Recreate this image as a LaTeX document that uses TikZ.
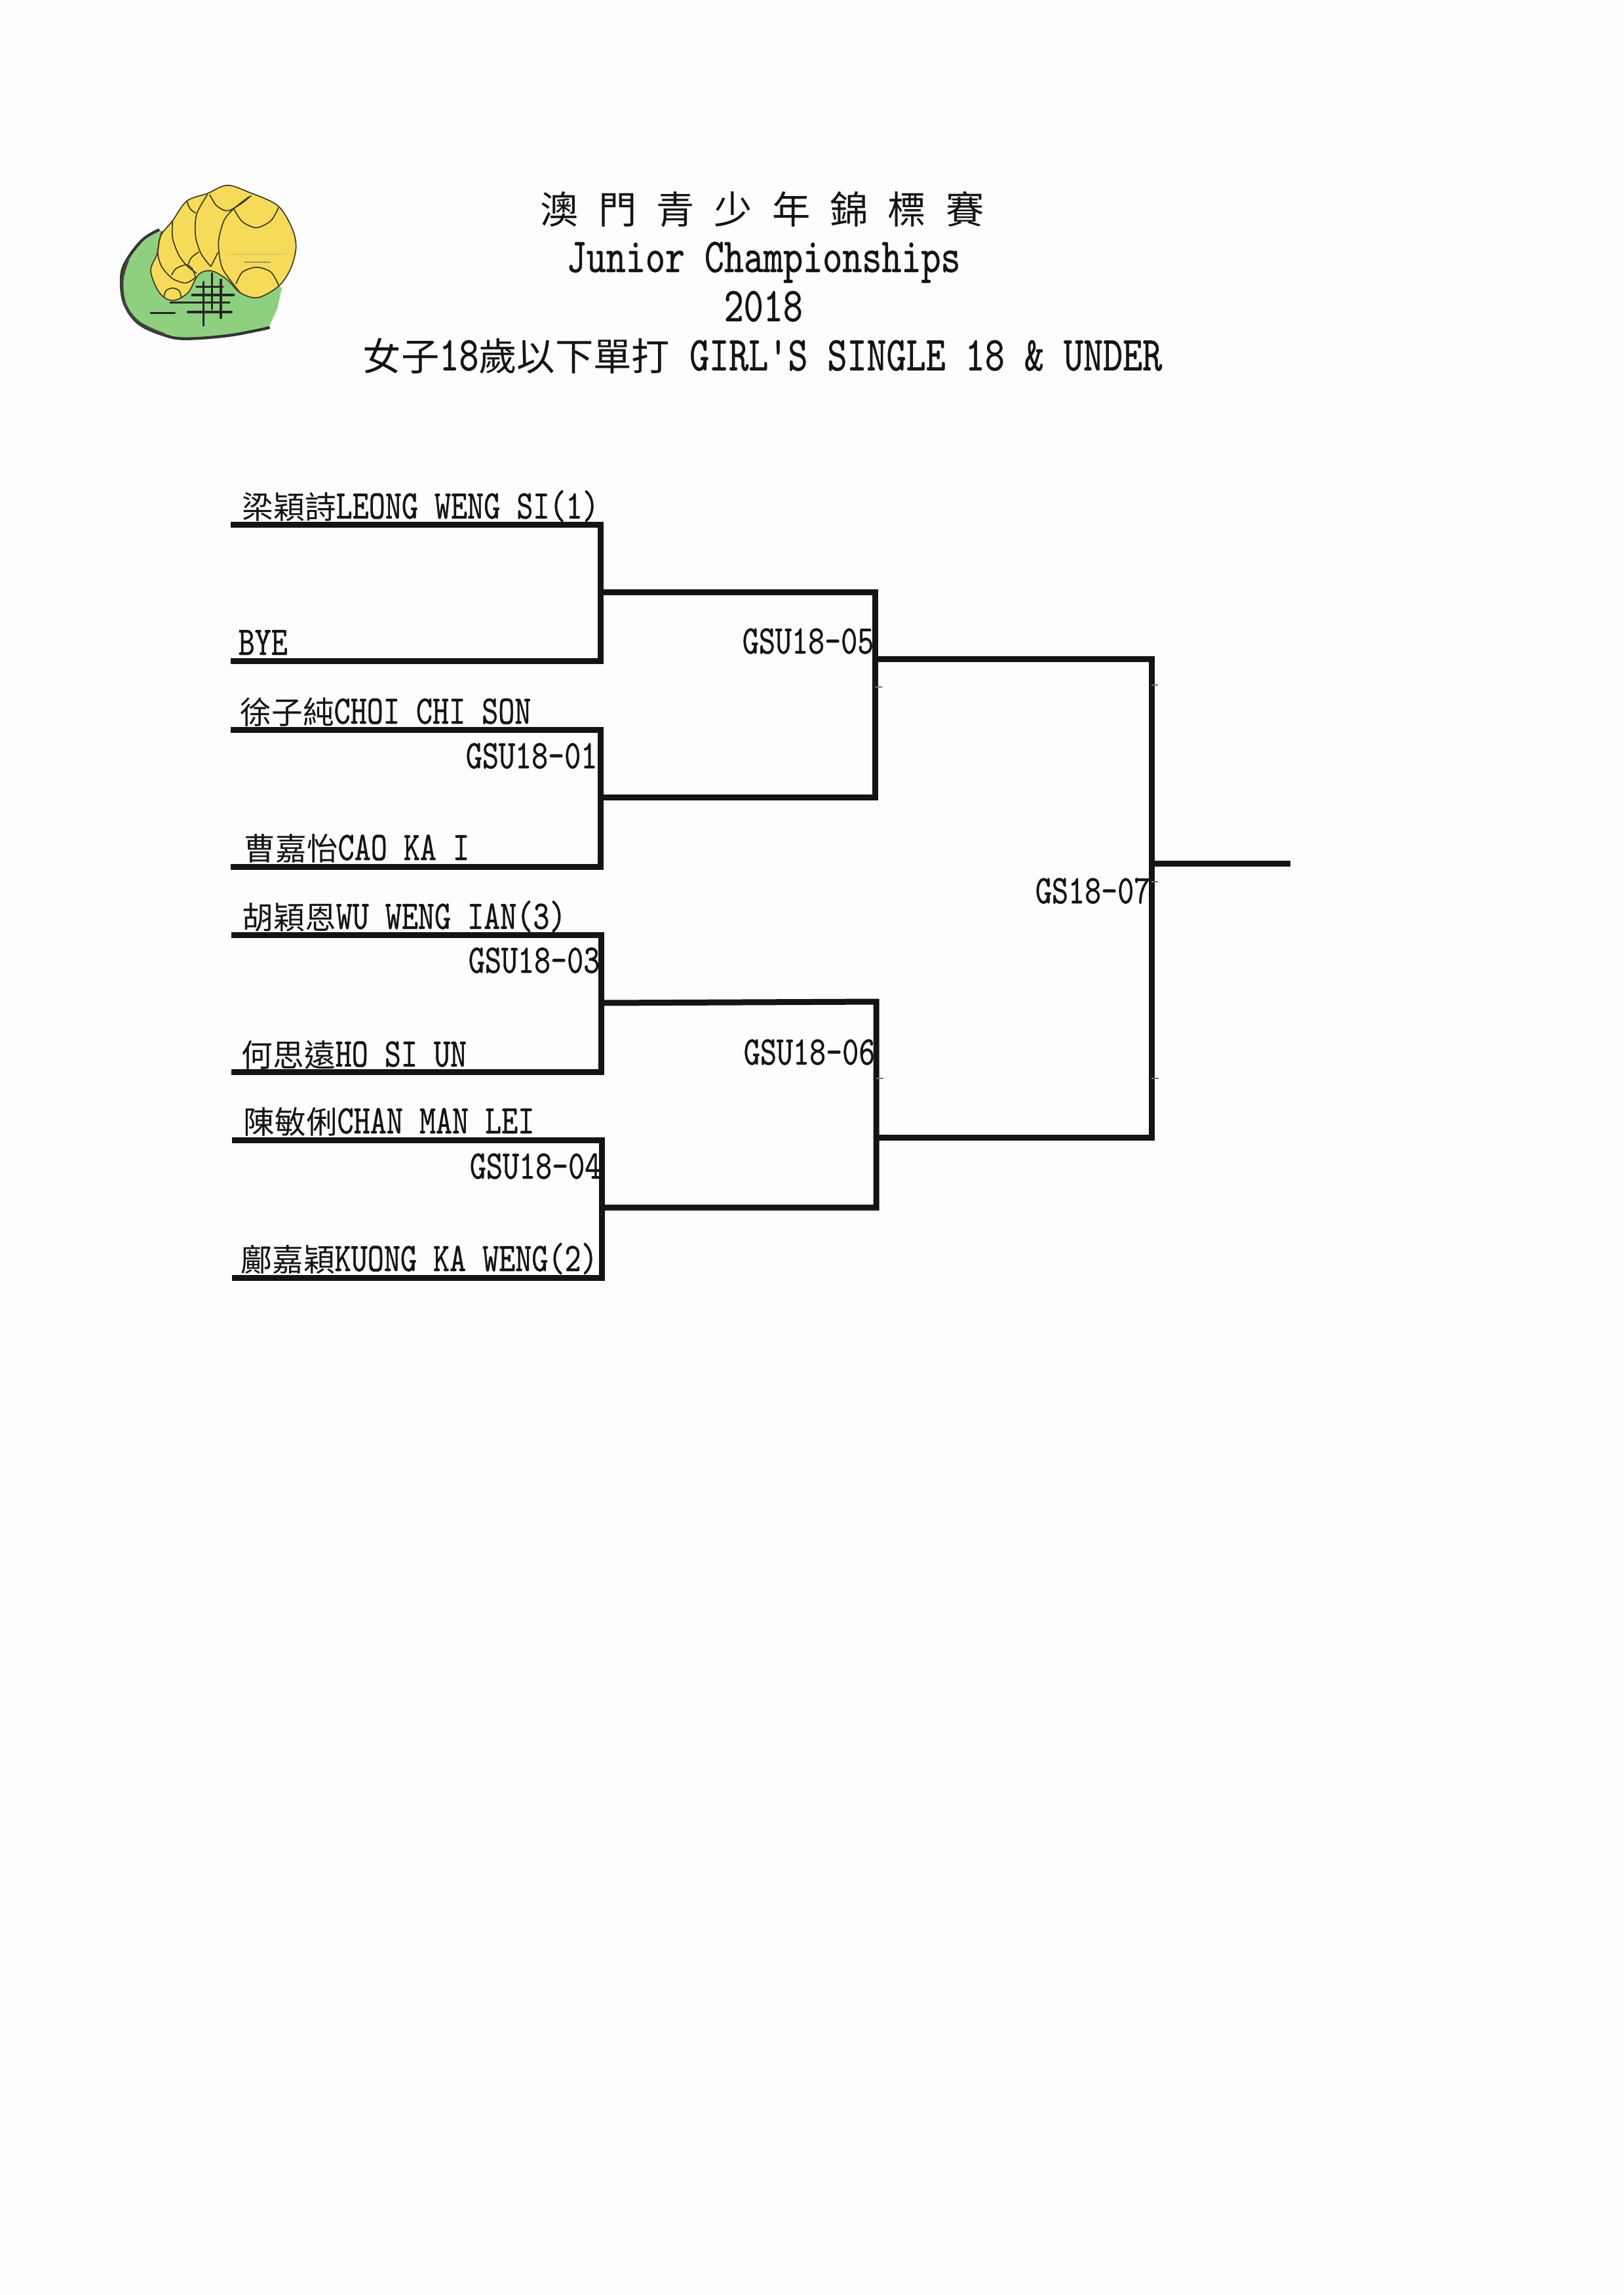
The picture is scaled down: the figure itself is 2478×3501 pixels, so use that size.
\documentclass[tikz,border=0pt]{standalone}
\usepackage{fontspec}
\newfontfamily\cjk{Noto Sans CJK TC}
\newfontfamily\latn[Extension=.otf,FakeStretch=0.77,FakeBold=0.6]{lmmono10-regular}
\newcommand{\cj}[1]{{\cjk #1}}
\newcommand{\namefont}{\fontsize{18.6pt}{20pt}\selectfont\latn}
\newcommand{\titlefont}{\fontsize{22.3pt}{24pt}\selectfont\latn}
\newcommand{\cjkname}{\fontsize{14.3pt}{20pt}\selectfont}
\newcommand{\cjktitle}{\fontsize{17.5pt}{24pt}\selectfont}
\newcommand{\cn}[1]{{\cjk\cjkname #1}}
\newcommand{\ct}[1]{{\cjk\cjktitle #1}}
\definecolor{paper}{HTML}{FDFDFE}
\definecolor{ink}{HTML}{141414}
\definecolor{logogreen}{HTML}{8FD080}
\definecolor{logoyellow}{HTML}{F6DB5A}
\definecolor{logoline}{HTML}{3A3A22}
\tikzset{
  bracket/.style={draw=ink,line width=2.7pt,line join=miter},
  nick/.style={draw=ink!60,line width=0.35pt},
  playername/.style={anchor=base west,inner sep=0pt,font=\namefont,text=ink},
  matchcode/.style={anchor=base east,inner sep=0pt,font=\namefont,text=ink},
  headline/.style={anchor=base west,inner sep=0pt,font=\titlefont,text=ink},
  ballarc/.style={draw=logoline,line width=0.5pt},
  gridbar/.style={draw=black!85,line width=1pt,line cap=round},
}
\begin{document}
\begin{tikzpicture}[x=0.3pt,y=-0.3pt]
\useasboundingbox (0,0) rectangle (2478,3501);
\fill[paper] (0,0) rectangle (2478,3501);

% logo
\begin{scope}[shift={(150,250)},x=0.1pt,y=-0.1pt]
  \fill[logogreen] (840,570) -- (700,400) -- (400,300) -- (280,305) -- plot[smooth,tension=0.6] coordinates {(280,305) (170,390) (105,530) (125,650) (190,730) (340,795) (500,795) (780,750)} -- (820,660) -- cycle;
  \draw[black!80,line width=1.3pt,line cap=round] plot[smooth,tension=0.6] coordinates {(275,303) (200,350) (125,450) (105,530) (120,640) (185,730) (300,783) (400,800) (600,785) (780,750)};
  \draw[black!75,line width=1.2pt,line cap=round] plot[smooth,tension=0.6] coordinates {(135,440) (110,530) (122,640) (185,725) (300,780)};
  \draw[ballarc,fill=logoyellow] plot[smooth cycle,tension=0.55] coordinates {(340,625) (280,590) (240,490) (270,410) (285,330) (340,260) (405,170) (500,135) (590,98) (690,130) (820,190) (885,290) (905,380) (880,480) (825,560) (730,612) (650,590) (590,530) (520,490) (460,505) (410,590)};
  \draw[ballarc] plot[smooth] coordinates {(510,140) (540,190) (590,215) (650,185) (700,145)};
  \draw[ballarc] plot[smooth] coordinates {(500,140) (450,230) (445,330) (470,410) (515,470)};
  \draw[ballarc] plot[smooth] coordinates {(405,170) (420,205) (445,225)};
  \draw[ballarc] plot[smooth] coordinates {(340,260) (340,340) (370,420) (410,470) (450,500)};
  \draw[ballarc] plot[smooth] coordinates {(290,310) (272,400) (290,470) (340,525) (400,545) (445,520)};
  \draw[ballarc] plot[smooth] coordinates {(690,150) (620,205) (575,260) (550,360) (565,470) (610,540) (650,590)};
  \draw[ballarc] plot[smooth] coordinates {(620,205) (660,265) (725,292) (790,260) (825,200)};
  \draw[ballarc] plot[smooth] coordinates {(630,550) (660,495) (725,473) (790,495) (825,555)};
  \draw[ballarc] plot[smooth] coordinates {(335,510) (355,480) (400,462) (430,480) (445,520)};
  \draw[ballarc] plot[smooth] coordinates {(410,465) (425,430) (460,403)};
  \draw[ballarc] (515,470) -- (548,405);
  \draw[ballarc] plot[smooth] coordinates {(300,610) (310,580) (340,568) (370,580) (380,612)};
  \draw[logoline!70,line width=0.35pt,dash pattern=on 0.5pt off 0.4pt] (605,412) -- (860,412);
  \draw[logoline!70,line width=0.35pt,dash pattern=on 0.5pt off 0.4pt] (670,450) -- (790,450);
  \draw[gridbar] (240,683) -- (350,683);
  \draw[gridbar] (450,562) -- (570,562);
  \draw[gridbar] (430,600) -- (620,600);
  \draw[gridbar] (330,635) -- (600,635);
  \draw[gridbar] (410,678) -- (610,678);
  \draw[gridbar] (482,540) -- (482,740);
  \draw[gridbar] (521,500) -- (521,665);
  \draw[gridbar] (561,530) -- (561,705);
\end{scope}

% heading
\node[headline] (t1) at (824,341) {\ct{澳} \ct{門} \ct{青} \ct{少} \ct{年} \ct{錦} \ct{標} \ct{賽}};
\node[headline] (t2) at (864,415) {Junior Championships};
\node[headline] (t3) at (1104,490) {2018};
\node[headline] (t4) at (553,565) {\ct{女子}18\ct{歲以下單打} GIRL'S SINGLE 18 \& UNDER};

% bracket points
\coordinate (p1) at (352,800);   \coordinate (p2) at (352,1008);
\coordinate (p3) at (352,1113);  \coordinate (p4) at (352,1322);
\coordinate (p5) at (353,1426);  \coordinate (p6) at (353,1635);
\coordinate (p7) at (354,1739);  \coordinate (p8) at (354,1949);
\coordinate (a1) at (916,800);   \coordinate (a2) at (916,1008);
\coordinate (b1) at (916,1113);  \coordinate (b2) at (916,1322);
\coordinate (c1) at (917,1426);  \coordinate (c2) at (917,1635);
\coordinate (d1) at (918,1739);  \coordinate (d2) at (918,1949);
\coordinate (aj) at (916,903);   \coordinate (bj) at (916,1216);
\coordinate (cj) at (917,1530);  \coordinate (dj) at (918,1842);
\coordinate (e1) at (1335,903);  \coordinate (e2) at (1335,1216);
\coordinate (f1) at (1337,1528); \coordinate (f2) at (1337,1842);
\coordinate (ej) at (1335,1005); \coordinate (fj) at (1337,1735);
\coordinate (g1) at (1757,1005); \coordinate (g2) at (1757,1735);
\coordinate (gj) at (1757,1317); \coordinate (out) at (1969,1317);

% round one
\draw[bracket] (p1) -- (a1) -- (a2) -- (p2);
\draw[bracket] (p3) -- (b1) -- (b2) -- (p4);
\draw[bracket] (p5) -- (c1) -- (c2) -- (p6);
\draw[bracket] (p7) -- (d1) -- (d2) -- (p8);
% round two
\draw[bracket] (aj) -- (e1) -- (e2) -- (bj);
\draw[bracket] (cj) -- (f1) -- (f2) -- (dj);
% final
\draw[bracket] (ej) -- (g1) -- (g2) -- (fj);
\draw[bracket] (gj) -- (out);

% printing nicks on the rules
\draw[nick] (1335,1048) -- (1346,1048);
\draw[nick] (1337,1645) -- (1348,1645);
\draw[nick] (1757,1045) -- (1767,1045);
\draw[nick] (1757,1345) -- (1767,1345);
\draw[nick] (1757,1645) -- (1768,1645);

% players
\node[playername] (n1) at (369,791)  {\cn{梁穎詩}LEONG WENG SI(1)};
\node[playername] (n2) at (363,999)  {BYE};
\node[playername] (n3) at (366,1104) {\cn{徐子純}CHOI CHI SON};
\node[playername] (n4) at (372,1312) {\cn{曹嘉怡}CAO KA I};
\node[playername] (n5) at (369,1417) {\cn{胡穎恩}WU WENG IAN(3)};
\node[playername] (n6) at (368,1627) {\cn{何思遠}HO SI UN};
\node[playername] (n7) at (371,1729) {\cn{陳敏俐}CHAN MAN LEI};
\node[playername] (n8) at (367,1939) {\cn{鄺嘉穎}KUONG KA WENG(2)};

% match codes
\node[matchcode] (m1) at (912,1172)  {GSU18-01};
\node[matchcode] (m3) at (916,1484)  {GSU18-03};
\node[matchcode] (m4) at (918,1798)  {GSU18-04};
\node[matchcode] (m5) at (1334,997)  {GSU18-05};
\node[matchcode] (m6) at (1336,1624) {GSU18-06};
\node[matchcode] (m7) at (1756,1378) {GS18-07};
\end{tikzpicture}
\end{document}
